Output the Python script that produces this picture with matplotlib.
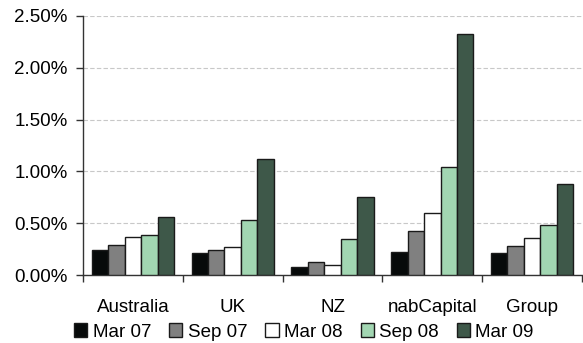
import matplotlib
matplotlib.use("Agg")
import matplotlib.pyplot as plt
import numpy as np
from matplotlib.ticker import FuncFormatter, FixedLocator

plt.rcParams['font.family'] = ['Liberation Sans', 'DejaVu Sans']

regions = ["Australia", "UK", "NZ", "nabCapital", "Group"]
periods = ["Mar 07", "Sep 07", "Mar 08", "Sep 08", "Mar 09"]

mar07 = [0.238, 0.212, 0.077, 0.225, 0.212]
sep07 = [0.287, 0.238, 0.122, 0.425, 0.280]
mar08 = [0.370, 0.273, 0.097, 0.595, 0.360]
sep08 = [0.390, 0.528, 0.344, 1.042, 0.483]
mar09 = [0.560, 1.120, 0.750, 2.326, 0.880]

series = [mar07, sep07, mar08, sep08, mar09]
colors = ["#070a0a", "#808080", "#ffffff", "#a2d6b2", "#3e5849"]

FS = 13.5

fig = plt.figure(figsize=(5.83, 3.43), dpi=100)
ax = fig.add_axes([83 / 583, (343 - 275) / 343, 499 / 583, 259 / 343])

x = np.arange(len(regions))
bw = 0.165
for i, (vals, c) in enumerate(zip(series, colors)):
    ax.bar(x + (i - 2) * bw, vals, width=bw, color=c, edgecolor="#1a1a1a",
           linewidth=1.0, label=periods[i], zorder=3)

ax.set_xlim(-0.5, len(regions) - 0.5)
ax.set_ylim(0, 2.5)
ax.set_yticks(np.arange(0, 2.51, 0.5))
ax.yaxis.set_major_formatter(FuncFormatter(lambda v, p: f"{v:.2f}%"))
ax.grid(axis="y", color="#c8c8c8", linestyle=(0, (4, 2)), linewidth=0.8, zorder=0)

# category labels centred, tick marks at category boundaries
ax.set_xticks(x)
ax.set_xticklabels(regions, fontsize=FS)
ax.tick_params(axis="x", length=0, pad=17)
ax.xaxis.set_minor_locator(FixedLocator(np.arange(-0.5, len(regions), 1.0)))
ax.tick_params(axis="x", which="minor", length=5, color="#333333", width=1)
ax.tick_params(axis="y", length=5, color="#333333", width=1, labelsize=FS, pad=6)

for s in ["top", "right"]:
    ax.spines[s].set_visible(False)
for s in ["left", "bottom"]:
    ax.spines[s].set_color("#333333")
    ax.spines[s].set_linewidth(1)

leg = fig.legend(loc="center", bbox_to_anchor=(304 / 583, (343 - 332) / 343),
                 ncol=5, frameon=False, fontsize=FS, handlelength=0.7,
                 handleheight=0.7, handletextpad=0.3, columnspacing=0.95,
                 borderpad=0)

fig.savefig("out.png", dpi=100)
